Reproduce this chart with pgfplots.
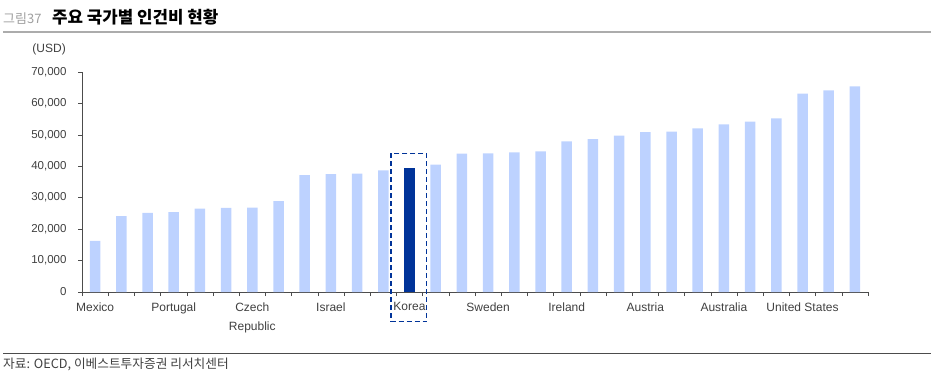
\documentclass[border=0pt]{standalone}
\usepackage{pgfplots}
\pgfplotsset{compat=1.18}
\usepackage{fontspec}
\setmainfont{Liberation Sans}
\newfontfamily\kr{Noto Sans CJK KR}
\definecolor{barlight}{HTML}{BDD2FF}
\definecolor{bardark}{HTML}{003399}
\definecolor{txt}{HTML}{404040}
\begin{document}
\begin{tikzpicture}
\path[use as bounding box] (0,0) rectangle (931pt,-378pt);
\node[anchor=base west, inner sep=0, text=gray!75, font=\kr\fontsize{13}{15}\selectfont] at (3pt,-23pt) {그림37};
\node[anchor=base west, inner sep=0, font=\kr\bfseries\fontsize{16.8}{19}\selectfont] at (52pt,-23pt) {주요 국가별 인건비 현황};
\draw[line width=1.8pt, color=gray!65] (3pt,-32pt) -- (931pt,-32pt);
\draw[line width=1pt, color=black!70] (3pt,-353pt) -- (931pt,-353pt);
\node[anchor=base west, inner sep=0, font=\kr\fontsize{12.7}{14}\selectfont, text=txt] at (3pt,-368pt) {자료: OECD, 이베스트투자증권 리서치센터};
\node[anchor=east, inner sep=0, font=\fontsize{12}{14}\selectfont, text=txt] at (66pt,-49pt) {(USD)};
\begin{axis}[
  at={(82pt,-292pt)}, anchor=south west,
  scale only axis, width=786pt, height=220pt,
  xmin=0.5, xmax=30.5, ymin=0, ymax=70000,
  axis x line*=bottom, axis y line*=left,
  axis line style={black!70, line width=1pt},
  ytick={0,10000,...,70000},
  scaled y ticks=false,
  /pgf/number format/1000 sep={,},
  /pgf/number format/fixed,
  /pgf/number format/assume math mode=true,
  y tick label style={font=\fontsize{11.5}{13}\selectfont, text=txt, xshift=-8pt},
  xtick={1,4,7,10,13,16,19,22,25,28},
  xticklabels={Mexico,Portugal,{Czech\\Republic},Israel,Korea,Sweden,Ireland,Austria,Australia,United States},
  x tick label style={align=center, font=\fontsize{12}{19}\selectfont, text=txt, anchor=north, yshift=-3pt},
  minor xtick={0.5,1.5,...,30.5},
  major x tick style={draw=none},
  minor x tick style={black!70, line width=0.6pt},
  y tick style={black!70, line width=0.6pt},
  tick align=outside, major tick length=4pt, minor tick length=4pt,
  clip=false,
]
\addplot[ybar, bar width=10.5pt, bar shift=0pt, fill=barlight, draw=none] coordinates {
(1,16230) (2,24180) (3,25140) (4,25450) (5,26500) (6,26730) (7,26840) (8,28950)
(9,37220) (10,37540) (11,37650) (12,38710) (14,40520) (15,44000) (16,44120)
(17,44440) (18,44760) (19,47940) (20,48680) (21,49740) (22,50910) (23,51010)
(24,52070) (25,53350) (26,54190) (27,55250) (28,63100) (29,64160) (30,65440)};
\addplot[ybar, bar width=10.5pt, bar shift=0pt, fill=bardark, draw=none] coordinates {(13,39350)};
\draw[bardark, line width=1.3pt, dash pattern=on 5pt off 3pt] (axis cs:12.29,44130) rectangle (axis cs:13.66,-9450);
\end{axis}
\end{tikzpicture}
\end{document}
